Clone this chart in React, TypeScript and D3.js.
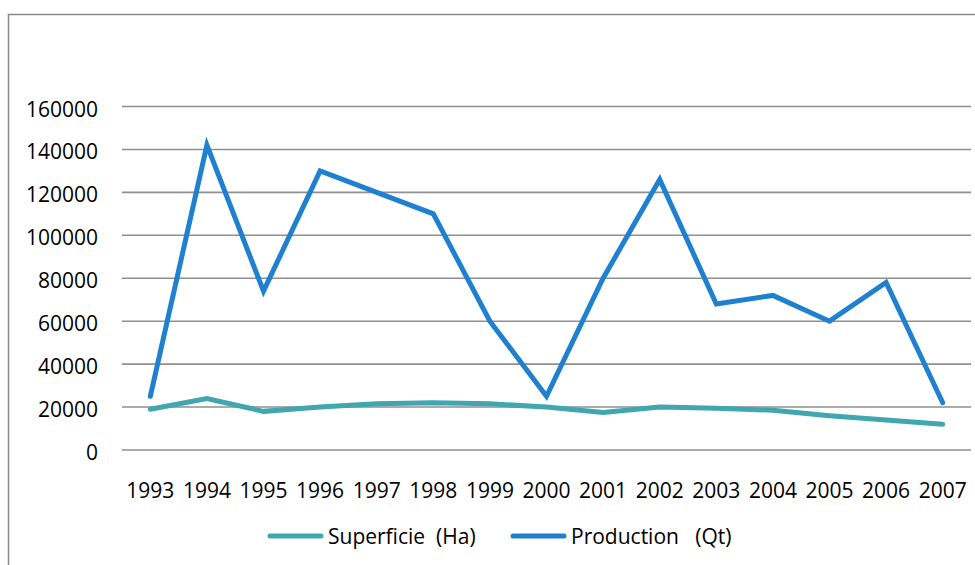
import React, { useEffect, useRef } from 'react';
import * as d3 from 'd3';

// valeurs
const years = ['1993', '1994', '1995', '1996', '1997', '1998', '1999', '2000', '2001', '2002', '2003', '2004', '2005', '2006', '2007'];
const superficie = [19000, 24000, 18000, 20000, 21500, 22000, 21500, 20000, 17500, 20000, 19500, 18500, 16000, 14000, 12000];
const production = [25000, 142000, 74000, 130000, 120000, 110000, 60000, 25000, 80000, 126000, 68000, 72000, 60000, 78000, 22000];
const yTicks = [0, 20000, 40000, 60000, 80000, 100000, 120000, 140000, 160000];
const seriesNames = ['Superficie  (Ha)', 'Production   (Qt)'];
const seriesColors = ['#40A6AF', '#1F80D0'];

const App = () => {
  const ref = useRef<SVGSVGElement>(null);

  useEffect(() => {
    const width = 975;
    const height = 565;
    const font = '"Open Sans", sans-serif';
    const fontSize = 21;

    const svg = d3.select(ref.current);
    svg.selectAll('*').remove();

    svg.append('rect')
      .attr('width', width)
      .attr('height', height)
      .attr('fill', '#fff');

    // cadre du graphique (coupé à droite et en bas)
    svg.append('rect')
      .attr('x', 8.5)
      .attr('y', 14.5)
      .attr('width', 1000)
      .attr('height', 600)
      .attr('fill', 'none')
      .attr('stroke', '#8a8a8a')
      .attr('stroke-width', 1.5);

    const x = d3.scaleBand()
      .domain(years)
      .range([122, 971]);

    const y = d3.scaleLinear()
      .domain([0, 160000])
      .range([450, 106.5]);

    // lignes de grille
    svg.append('g')
      .selectAll('line')
      .data(yTicks)
      .enter()
      .append('line')
      .attr('x1', 122)
      .attr('x2', 971)
      .attr('y1', d => y(d))
      .attr('y2', d => y(d))
      .attr('stroke', '#8f8f8f')
      .attr('stroke-width', 1.6);

    // étiquettes axe Y
    svg.append('g')
      .selectAll('text')
      .data(yTicks)
      .enter()
      .append('text')
      .attr('x', 98)
      .attr('y', d => y(d) + 2)
      .attr('text-anchor', 'end')
      .attr('dominant-baseline', 'central')
      .style('font-family', font)
      .style('font-size', `${fontSize}px`)
      .attr('fill', '#000')
      .text(d => String(d));

    // étiquettes axe X
    svg.append('g')
      .selectAll('text')
      .data(years)
      .enter()
      .append('text')
      .attr('x', d => (x(d) as number) + x.bandwidth() / 2)
      .attr('y', 498)
      .attr('text-anchor', 'middle')
      .style('font-family', font)
      .style('font-size', `${fontSize}px`)
      .attr('fill', '#000')
      .text(d => d);

    const line = d3.line<number>()
      .x((d, i) => (x(years[i]) as number) + x.bandwidth() / 2)
      .y(d => y(d));

    [superficie, production].forEach((values, i) => {
      svg.append('path')
        .datum(values)
        .attr('d', line)
        .attr('fill', 'none')
        .attr('stroke', seriesColors[i])
        .attr('stroke-width', 5)
        .attr('stroke-linejoin', 'miter')
        .attr('stroke-linecap', 'round');
    });

    // légende
    const legendX = [270, 513];
    const legend = svg.append('g')
      .selectAll('g')
      .data(seriesNames)
      .enter()
      .append('g')
      .attr('transform', (d, i) => `translate(${legendX[i]},536)`);

    legend.append('line')
      .attr('x1', 0)
      .attr('x2', 51)
      .attr('stroke', (d, i) => seriesColors[i])
      .attr('stroke-width', 5)
      .attr('stroke-linecap', 'round');

    legend.append('text')
      .attr('x', 58)
      .attr('y', 0)
      .attr('dominant-baseline', 'central')
      .style('font-family', font)
      .style('font-size', `${fontSize}px`)
      .style('white-space', 'pre')
      .attr('fill', '#000')
      .text(d => d);
  }, []);

  return (
    <svg
      ref={ref}
      width={975}
      height={565}
      style={{ position: 'absolute', left: 0, top: 0 }}
    />
  );
};

export default App;
